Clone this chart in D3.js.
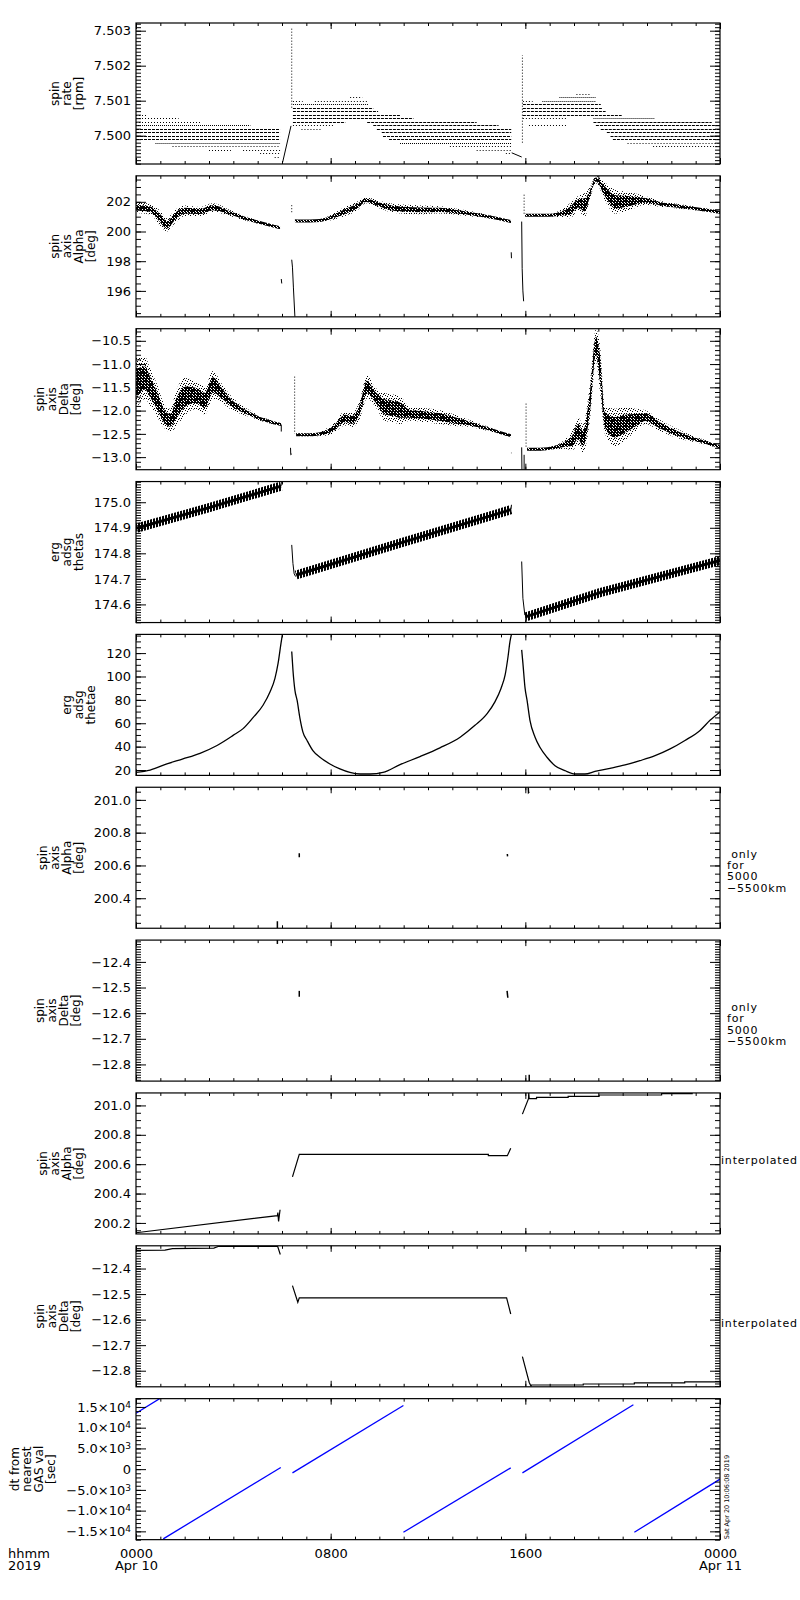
<!DOCTYPE html>
<html>
<head>
<meta charset="utf-8">
<title>ERG spin axis summary</title>
<script src="https://cdn.jsdelivr.net/npm/d3@7"></script>
<style>
  body { margin: 0; background: #fff; }
  text { font-family: "DejaVu Sans", sans-serif; fill: #000; }
  .tick text { font-size: 13px; }
  .tick line { stroke: #000; }
  .domain { display: none; }
</style>
</head>
<body>
<div id="chart"></div>
<script>
// time is hours since 2019-04-10 00:00

var panelTitles = [
  ["spin", "rate", "[rpm]"],
  ["spin", "axis", "Alpha", "[deg]"],
  ["spin", "axis", "Delta", "[deg]"],
  ["erg", "adsg", "thetas"],
  ["erg", "adsg", "thetae"],
  ["spin", "axis", "Alpha", "[deg]"],
  ["spin", "axis", "Delta", "[deg]"],
  ["spin", "axis", "Alpha", "[deg]"],
  ["spin", "axis", "Delta", "[deg]"],
  ["dt from", "nearest", "GAS val", "[sec]"]
];
var panelRanges = [[7.49919, 7.50322], [194.25, 203.75], [-13.27, -10.24], [174.529, 175.081], [15.4, 136],
                   [200.217, 201.077], [-12.865, -12.315], [200.125, 201.085], [-12.863, -12.311], [-17000, 17000]];
var majorSteps = [0.001, 2, 0.5, 0.1, 20, 0.2, 0.1, 0.2, 0.1, 5000];
var minorSteps = [0.0001, 0.5, 0.1, 0.01, 5, 0.05, 0.01, 0.05, 0.01, 1000];
var tickFormats = [".3f", "d", ".1f", ".1f", "d", ".1f", ".1f", ".1f", ".1f", "sci"];
var sideNotes = [null, null, null, null, null,
                 ["\u00a0only", "for", "5000", "\u22125500km"],
                 ["\u00a0only", "for", "5000", "\u22125500km"],
                 ["interpolated"], ["interpolated"], null];

var hourTicks = d3.range(0, 25);
var labelHours = [0, 8, 16, 24];
var xLabels = ["0000", "0800", "1600", "0000"];
var xSubLabels = ["Apr 10", "", "", "Apr 11"];
var stamp = "Sat Apr 20 10:06:08 2019";

// panel 1: spin rate, quantised rows [level, t start, t end, density]
var spinRateRows = [
  [7.5006, 0.0, 0.45, "s"], [7.5005, 0.0, 1.75, "s"], [7.5004, 0.0, 2.7, "s"], [7.5003, 0.0, 4.7, "m"],
  [7.5002, 0.0, 5.92, "d"], [7.5001, 0.0, 5.92, "d"], [7.5000, 0.0, 5.92, "d"], [7.4999, 0.0, 5.92, "d"],
  [7.4998, 0.8, 5.92, "m"], [7.4997, 1.5, 5.92, "s"], [7.4996, 3.0, 3.9, "s"], [7.4996, 4.4, 5.92, "s"],
  [7.4995, 5.1, 5.92, "s"], [7.4994, 5.7, 5.92, "s"],
  [7.5011, 8.8, 9.3, "s"], [7.5010, 6.45, 6.85, "s"], [7.5010, 7.35, 9.5, "s"], [7.5009, 6.45, 9.55, "m"],
  [7.5008, 6.45, 9.75, "d"], [7.5007, 6.45, 9.95, "d"], [7.5006, 6.45, 10.85, "d"], [7.5005, 6.45, 11.4, "d"],
  [7.5004, 6.45, 8.6, "d"], [7.5004, 9.5, 14.0, "d"], [7.5003, 6.45, 8.1, "s"], [7.5003, 9.75, 14.9, "d"],
  [7.5002, 6.8, 7.6, "s"], [7.5002, 9.9, 15.42, "d"], [7.5001, 10.1, 15.42, "d"], [7.5000, 10.15, 15.42, "d"],
  [7.4999, 10.4, 15.42, "d"], [7.4998, 10.85, 15.42, "m"], [7.4997, 12.9, 15.42, "s"], [7.4996, 14.0, 15.42, "s"],
  [7.4995, 15.2, 15.42, "s"],
  [7.5012, 18.1, 18.7, "s"], [7.5011, 17.4, 18.9, "m"], [7.5010, 15.9, 16.3, "s"], [7.5010, 16.7, 18.9, "m"],
  [7.5009, 15.9, 19.1, "d"], [7.5008, 15.9, 19.15, "d"], [7.5007, 15.9, 19.3, "d"], [7.5006, 15.9, 19.96, "d"],
  [7.5005, 15.9, 17.7, "s"], [7.5005, 18.8, 21.3, "m"], [7.5004, 18.8, 23.66, "d"], [7.5003, 16.15, 17.7, "s"],
  [7.5003, 18.9, 24.0, "d"], [7.5002, 19.1, 24.0, "d"], [7.5001, 19.35, 24.0, "d"], [7.5000, 19.5, 24.0, "d"],
  [7.4999, 19.6, 24.0, "d"], [7.4998, 20.2, 24.0, "s"], [7.4997, 21.25, 24.0, "s"]
];
var spinRateRamps = [
  [[6.03, 7.49925], [6.37, 7.50028]],
  [[15.44, 7.49951], [15.85, 7.49939]]
];
var spinRateColumns = [[6.40, 7.5008, 7.5031], [15.88, 7.4998, 7.5023]];

// panel 2: spin axis alpha, scatter band [t, middle, half spread]
var alphaCloud = [
  [[0, 201.6, 0.35], [0.58, 201.5, 0.35], [0.99, 200.9, 0.5], [1.27, 200.45, 0.45], [1.6, 201.0, 0.45],
   [2.01, 201.4, 0.35], [2.63, 201.35, 0.3], [3.16, 201.6, 0.3], [3.86, 201.25, 0.2], [4.48, 200.9, 0.15],
   [5.1, 200.6, 0.1], [5.92, 200.25, 0.05]],
  [[6.53, 200.72, 0.05], [6.74, 200.7, 0.05], [7.56, 200.75, 0.08], [8.1, 201.0, 0.2], [8.59, 201.35, 0.3],
   [9.08, 201.7, 0.3], [9.45, 202.1, 0.2], [10.03, 201.8, 0.25], [10.64, 201.55, 0.3], [11.67, 201.46, 0.3],
   [12.49, 201.46, 0.25], [13.32, 201.3, 0.2], [14.14, 201.1, 0.15], [14.96, 200.85, 0.07], [15.41, 200.67, 0.05]],
  [[15.99, 201.1, 0.05], [17.01, 201.1, 0.08], [17.43, 201.2, 0.25], [17.84, 201.4, 0.5], [18.17, 201.9, 0.5],
   [18.45, 201.8, 0.8], [18.66, 202.6, 0.4], [18.9, 203.5, 0.25], [19.27, 202.7, 0.6], [19.69, 202.0, 0.8],
   [20.3, 202.05, 0.6], [20.92, 202.1, 0.3], [21.54, 201.87, 0.2], [22.36, 201.68, 0.15], [23.18, 201.5, 0.12],
   [24, 201.3, 0.1]]
];
var alphaPieces = [
  [[5.97, 196.8], [5.99, 196.5]],
  [[6.40, 198.1], [6.43, 197.6], [6.47, 196.2], [6.53, 194.25]],
  [[15.42, 198.6], [15.43, 198.2]],
  [[15.85, 200.67], [15.87, 197.5], [15.9, 196.0], [15.93, 195.3]]
];
var alphaColumns = [[6.40, 201.3, 201.9], [15.95, 201.2, 202.6]];

// panel 3: spin axis delta, scatter band [t, middle, half spread]
var deltaCloud = [
  [[0, -11.41, 0.55], [0.37, -11.3, 0.45], [0.58, -11.49, 0.4], [0.86, -11.78, 0.35], [1.19, -12.14, 0.25],
   [1.4, -12.21, 0.25], [1.69, -11.92, 0.4], [2.01, -11.7, 0.4], [2.42, -11.67, 0.3], [2.84, -11.78, 0.3],
   [3.16, -11.45, 0.3], [3.53, -11.63, 0.2], [3.86, -11.81, 0.15], [4.27, -11.96, 0.1], [4.69, -12.07, 0.07],
   [5.1, -12.17, 0.05], [5.59, -12.25, 0.04], [5.96, -12.3, 0.03]],
  [[6.58, -12.52, 0.03], [7.15, -12.52, 0.03], [7.56, -12.5, 0.05], [8.1, -12.39, 0.1], [8.59, -12.17, 0.15],
   [8.88, -12.2, 0.15], [9.21, -11.96, 0.2], [9.49, -11.49, 0.25], [9.82, -11.7, 0.2], [10.23, -11.92, 0.3],
   [10.64, -11.96, 0.3], [10.85, -11.99, 0.3], [11.26, -12.07, 0.15], [11.88, -12.1, 0.15], [12.49, -12.14, 0.15],
   [13.11, -12.21, 0.12], [13.73, -12.28, 0.07], [14.34, -12.37, 0.05], [14.96, -12.47, 0.03], [15.41, -12.54, 0.03]],
  [[16.07, -12.83, 0.03], [16.6, -12.83, 0.03], [17.22, -12.79, 0.04], [17.63, -12.72, 0.1], [17.92, -12.65, 0.2],
   [18.17, -12.45, 0.3], [18.37, -12.6, 0.3], [18.66, -11.8, 0.4], [18.9, -10.6, 0.35], [19.07, -11.1, 0.5],
   [19.27, -12.2, 0.3], [19.69, -12.36, 0.4], [20.1, -12.28, 0.35], [20.51, -12.21, 0.25], [20.92, -12.14, 0.15],
   [21.54, -12.32, 0.12], [22.15, -12.47, 0.1], [22.77, -12.59, 0.07], [23.39, -12.68, 0.05], [24, -12.78, 0.04]]
];
var deltaPieces = [
  [[5.97, -12.3], [5.97, -12.45]],
  [[6.35, -12.8], [6.36, -12.95], [6.40, -12.93]],
  [[15.41, -12.91], [15.43, -12.91]],
  [[15.85, -12.79], [15.86, -13.27]],
  [[15.95, -12.95], [15.95, -13.27]]
];
var deltaColumns = [[6.52, -11.27, -12.5], [16.03, -11.85, -12.8]];

// panel 4: thetas, ripple band centre
var thetasBand = [
  [[0, 174.898], [2.97, 174.978], [5.96, 175.063]],
  [[6.58, 174.715], [10.85, 174.84], [15.41, 174.971]],
  [[16.0, 174.551], [19.07, 174.646], [24, 174.772]]
];
var thetasPieces = [
  [[5.96, 175.063], [5.98, 175.085]],
  [[6.40, 174.833], [6.45, 174.76], [6.50, 174.72], [6.56, 174.709]],
  [[15.41, 174.971], [15.43, 174.99]],
  [[15.85, 174.768], [15.90, 174.624], [15.98, 174.558]]
];

// panel 5: thetae
var thetaeCurves = [
  [[0, 17.9], [0.58, 20.0], [1.27, 25.2], [1.93, 29.5], [2.63, 34.3], [3.33, 41.0], [3.99, 49.6], [4.4, 55.4],
   [4.81, 64.8], [5.22, 75.4], [5.51, 86.9], [5.71, 98.4], [5.84, 111.4], [5.96, 128.6], [6.02, 136.6]],
  [[6.4, 121.4], [6.45, 105.6], [6.53, 88.4], [6.62, 79.7], [6.74, 64], [6.86, 52.4], [7.03, 45.3], [7.27, 36.6],
   [7.56, 30.9], [7.97, 25.2], [8.38, 20.9], [8.79, 17.9], [9.21, 16.6], [9.62, 16.6], [10.15, 17.9], [10.85, 24.6],
   [11.67, 31.5], [12.49, 39], [13.32, 48.1], [13.93, 58.2], [14.43, 68.3], [14.75, 78.3], [15.0, 89.8],
   [15.17, 101.3], [15.29, 117.1], [15.37, 130], [15.43, 136]],
  [[15.85, 122.8], [15.9, 111.4], [15.99, 89.8], [16.07, 79.7], [16.19, 62.5], [16.4, 48.1], [16.6, 39.5],
   [16.89, 30.9], [17.22, 23.7], [17.63, 19.4], [18.04, 16.6], [18.45, 16.6], [18.86, 18.8], [19.48, 21.4],
   [20.1, 24.3], [20.71, 28], [21.33, 32.3], [21.95, 38.1], [22.56, 45.3], [23.18, 53.9], [23.59, 62.5], [24, 69.7]]
];

// panels 6 and 7: only for 5000-5500 km
var alphaOnlyMarks = [
  [[5.81, 200.26], [5.81, 200.217]],
  [[6.71, 200.675], [6.71, 200.65]],
  [[15.26, 200.67], [15.27, 200.655]],
  [[16.12, 201.077], [16.13, 201.045], [16.16, 201.05]]
];
var deltaOnlyMarks = [
  [[5.81, -12.315], [5.81, -12.33]],
  [[6.71, -12.513], [6.71, -12.536]],
  [[15.25, -12.513], [15.28, -12.54]],
  [[16.16, -12.84], [16.16, -12.865]]
];

// panels 8 and 9: interpolated
var alphaInterp = [
  [[0, 200.133], [5.81, 200.25], [5.83, 200.27], [5.86, 200.21], [5.92, 200.29]],
  [[6.43, 200.514], [6.71, 200.667], [14.48, 200.667], [14.48, 200.658], [15.26, 200.658], [15.4, 200.708]],
  [[15.88, 200.941], [16.13, 201.046], [16.14, 201.085], [16.16, 201.046], [16.46, 201.046], [16.46, 201.055],
   [17.76, 201.055], [17.76, 201.062], [19.03, 201.062], [19.03, 201.071], [21.6, 201.071], [21.6, 201.08],
   [22.88, 201.08]]
];
var deltaInterp = [
  [[0, -12.329], [1.19, -12.328], [1.5, -12.322], [3.2, -12.32], [3.4, -12.313], [5.81, -12.313], [5.82, -12.313],
   [5.93, -12.345]],
  [[6.43, -12.467], [6.65, -12.532], [6.71, -12.515], [15.23, -12.515], [15.4, -12.578]],
  [[15.88, -12.745], [16.16, -12.846], [16.24, -12.862], [16.24, -12.856], [18.38, -12.856], [18.38, -12.852],
   [20.48, -12.852], [20.48, -12.848], [22.55, -12.848], [22.55, -12.844], [24, -12.844]]
];

// panel 10: dt from nearest GAS value [sec]
var dtSegments = [
  [[0, 13500], [1.1, 17460]],
  [[1.12, -16800], [5.95, 390]],
  [[6.43, -894], [10.99, 15362]],
  [[10.99, -15217], [15.40, 314]],
  [[15.88, -894], [20.44, 15530]],
  [[20.48, -15217], [24.0, -2415]]
];

var width = 800, height = 1600;
var plotLeft = 136, plotRight = 720, firstTop = 23, panelStep = 152.85, panelHeight = 141;
var noteX = [0, 0, 0, 0, 0, 727, 727, 721, 721, 0];
var noteY = [0, 0, 0, 0, 0, 70.5, 71, 71, 81, 0];

var svg = d3.select("#chart").append("svg")
            .attr("width", width)
            .attr("height", height);

svg.append("rect")
   .attr("width", width)
   .attr("height", height)
   .style("fill", "white");

var defs = svg.append("defs");

function makePattern(id, w, h, cells) {
  var p = defs.append("pattern")
              .attr("id", id)
              .attr("patternUnits", "userSpaceOnUse")
              .attr("width", w)
              .attr("height", h);
  cells.forEach(function (c) {
    p.append("rect").attr("x", c[0]).attr("y", c[1]).attr("width", c[2] || 1).attr("height", c[3] || 1).attr("fill", "#000");
  });
}
makePattern("dotsSparse", 5, 5, [[0, 0], [2, 1], [4, 3], [1, 3], [3, 4]]);
makePattern("dotsDense", 3, 3, [[0, 0], [1, 0], [1, 1], [2, 1], [0, 2], [2, 2], [2, 0]]);
makePattern("hatch", 3, 12, [[0, 0, 2, 12]]);

var x = d3.scaleLinear().domain([0, 24]).range([plotLeft, plotRight]);

function tickList(domain, step) {
  var lo = Math.min(domain[0], domain[1]), hi = Math.max(domain[0], domain[1]);
  var k0 = Math.ceil(lo / step - 1e-6), k1 = Math.floor(hi / step + 1e-6);
  return d3.range(k0, k1 + 1).map(function (k) { return +(k * step).toFixed(6); });
}

function drawLines(g, y, lines, color, w, curve) {
  var line = d3.line()
               .curve(curve || d3.curveLinear)
               .x(function (d) { return x(d[0]); })
               .y(function (d) { return y(d[1]); });
  g.selectAll(null)
   .data(lines)
   .enter().append("path")
   .attr("d", line)
   .attr("fill", "none")
   .attr("stroke", color)
   .attr("stroke-width", w);
}

function drawColumns(g, y, cols) {
  g.selectAll(null)
   .data(cols)
   .enter().append("line")
   .attr("x1", function (d) { return x(d[0]); })
   .attr("x2", function (d) { return x(d[0]); })
   .attr("y1", function (d) { return y(d[1]); })
   .attr("y2", function (d) { return y(d[2]); })
   .attr("stroke", "#000")
   .attr("stroke-width", 1)
   .attr("stroke-dasharray", "1,2");
}

function drawCloud(g, y, segs) {
  var outer = d3.area()
                .curve(d3.curveMonotoneX)
                .x(function (d) { return x(d[0]); })
                .y0(function (d) { return y(d[1] - d[2]); })
                .y1(function (d) { return y(d[1] + d[2]); });
  var core = function (d) { return Math.max(1.5, (y(d[1] - d[2]) - y(d[1])) * 0.55); };
  var inner = d3.area()
                .curve(d3.curveMonotoneX)
                .x(function (d) { return x(d[0]); })
                .y0(function (d) { return y(d[1]) + core(d); })
                .y1(function (d) { return y(d[1]) - core(d); });
  g.selectAll(null).data(segs).enter().append("path")
   .attr("d", outer).attr("fill", "url(#dotsSparse)");
  g.selectAll(null).data(segs).enter().append("path")
   .attr("d", inner).attr("fill", "url(#dotsDense)");
}

var dashFor = { d: "3,1", m: "1,1", s: "1,2" };

var drawers = [
  function (g, y) {
    g.selectAll(null)
     .data(spinRateRows)
     .enter().append("line")
     .attr("x1", function (d) { return x(d[1]); })
     .attr("x2", function (d) { return x(d[2]); })
     .attr("y1", function (d) { return Math.round(y(d[0])) + 0.5; })
     .attr("y2", function (d) { return Math.round(y(d[0])) + 0.5; })
     .attr("stroke", "#000")
     .attr("stroke-width", 1)
     .attr("stroke-dasharray", function (d) { return dashFor[d[3]]; });
    drawLines(g, y, spinRateRamps, "#000", 1);
    drawColumns(g, y, spinRateColumns);
  },
  function (g, y) {
    drawCloud(g, y, alphaCloud);
    drawLines(g, y, alphaPieces, "#000", 1);
    drawColumns(g, y, alphaColumns);
  },
  function (g, y) {
    drawCloud(g, y, deltaCloud);
    drawLines(g, y, deltaPieces, "#000", 1);
    drawColumns(g, y, deltaColumns);
  },
  function (g, y) {
    drawLines(g, y, thetasBand, "url(#hatch)", 9);
    drawLines(g, y, thetasBand, "#000", 3);
    drawLines(g, y, thetasPieces, "#000", 1);
  },
  function (g, y) { drawLines(g, y, thetaeCurves, "#000", 1.3, d3.curveMonotoneX); },
  function (g, y) { drawLines(g, y, alphaOnlyMarks, "#000", 1.5); },
  function (g, y) { drawLines(g, y, deltaOnlyMarks, "#000", 1.5); },
  function (g, y) { drawLines(g, y, alphaInterp, "#000", 1.2); },
  function (g, y) { drawLines(g, y, deltaInterp, "#000", 1.2); },
  function (g, y) { drawLines(g, y, dtSegments, "#0000ff", 1.3); }
];

function sciLabels(axisG) {
  axisG.selectAll(".tick text").each(function (d) {
    var t = d3.select(this);
    t.text(null);
    if (d === 0) { t.text("0"); return; }
    var e = Math.floor(Math.log10(Math.abs(d)));
    var m = d / Math.pow(10, e);
    t.append("tspan").text(d3.format(".1f")(m) + "\u00d710");
    t.append("tspan").attr("dy", "-0.45em").style("font-size", "9px").text(e);
  });
}

panelTitles.forEach(function (title, i) {
  var top = firstTop + i * panelStep;
  var bottom = top + panelHeight;
  var y = d3.scaleLinear().domain(panelRanges[i]).range([bottom, top]);
  var g = svg.append("g");

  defs.append("clipPath")
      .attr("id", "clip" + i)
      .append("rect")
      .attr("x", plotLeft)
      .attr("y", top)
      .attr("width", plotRight - plotLeft)
      .attr("height", panelHeight);

  var plot = g.append("g").attr("clip-path", "url(#clip" + i + ")");
  drawers[i](plot, y);

  var major = tickList(panelRanges[i], majorSteps[i]);
  var minor = tickList(panelRanges[i], minorSteps[i]);
  var fmt = tickFormats[i] === "sci" ? function () { return ""; } : d3.format(tickFormats[i]);

  var yAxis = g.append("g")
               .attr("transform", "translate(" + plotLeft + ",0)")
               .call(d3.axisLeft(y).tickValues(major).tickSize(-10).tickSizeOuter(0).tickPadding(5).tickFormat(fmt));
  if (tickFormats[i] === "sci") { sciLabels(yAxis); }
  g.append("g")
   .attr("transform", "translate(" + plotLeft + ",0)")
   .call(d3.axisLeft(y).tickValues(minor).tickSize(-5).tickSizeOuter(0).tickFormat(""));
  g.append("g")
   .attr("transform", "translate(" + plotRight + ",0)")
   .call(d3.axisRight(y).tickValues(major).tickSize(-10).tickSizeOuter(0).tickFormat(""));
  g.append("g")
   .attr("transform", "translate(" + plotRight + ",0)")
   .call(d3.axisRight(y).tickValues(minor).tickSize(-5).tickSizeOuter(0).tickFormat(""));

  g.append("g")
   .attr("transform", "translate(0," + bottom + ")")
   .call(d3.axisBottom(x).tickValues(hourTicks).tickSize(-3).tickSizeOuter(0).tickFormat(""));
  g.append("g")
   .attr("transform", "translate(0," + bottom + ")")
   .call(d3.axisBottom(x).tickValues(labelHours).tickSize(-6).tickSizeOuter(0).tickFormat(""));
  g.append("g")
   .attr("transform", "translate(0," + top + ")")
   .call(d3.axisTop(x).tickValues(hourTicks).tickSize(-3).tickSizeOuter(0).tickFormat(""));
  g.append("g")
   .attr("transform", "translate(0," + top + ")")
   .call(d3.axisTop(x).tickValues(labelHours).tickSize(-6).tickSizeOuter(0).tickFormat(""));

  g.append("rect")
   .attr("x", plotLeft)
   .attr("y", top)
   .attr("width", plotRight - plotLeft)
   .attr("height", panelHeight)
   .attr("fill", "none")
   .attr("stroke", "#000")
   .attr("stroke-width", 1.2);

  // stacked, rotated axis title just left of the tick labels
  var box = yAxis.node().getBBox();
  var labelLeft = plotLeft + box.x;
  title.forEach(function (line, j) {
    var bx = labelLeft - 11 - 12 * (title.length - 1 - j);
    g.append("text")
     .attr("transform", "translate(" + bx + "," + (top + panelHeight / 2) + ") rotate(-90)")
     .attr("text-anchor", "middle")
     .style("font-size", "12px")
     .text(line);
  });

  if (sideNotes[i]) {
    sideNotes[i].forEach(function (line, j) {
      g.append("text")
       .attr("x", noteX[i])
       .attr("y", top + noteY[i] + j * 11.3)
       .style("font-size", "11px")
       .style("letter-spacing", "0.8px")
       .text(line);
    });
  }

  if (i === panelTitles.length - 1) {
    var xl = g.append("g")
              .attr("transform", "translate(0," + bottom + ")")
              .call(d3.axisBottom(x).tickValues(labelHours).tickSize(0).tickPadding(9)
                      .tickFormat(function (d, k) { return xLabels[k]; }));
    xl.selectAll(".tick text").each(function (d, k) {
      if (xSubLabels[k]) {
        d3.select(this).append("tspan").attr("x", 0).attr("dy", "12px").text(xSubLabels[k]);
      }
    });
    g.append("text").attr("x", 8).attr("y", bottom + 18.4).style("font-size", "13px").text("hhmm");
    g.append("text").attr("x", 8).attr("y", bottom + 30.4).style("font-size", "13px").text("2019");
    g.append("text")
     .attr("transform", "translate(728.5," + (bottom - 0.5) + ") rotate(-90)")
     .style("font-size", "6.5px")
     .text(stamp);
  }
});
</script>
</body>
</html>
